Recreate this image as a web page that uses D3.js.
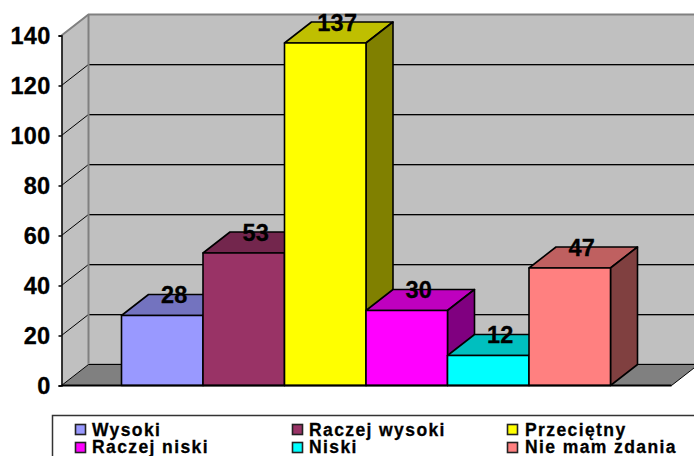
<!DOCTYPE html>
<html><head><meta charset="utf-8">
<script src="https://cdnjs.cloudflare.com/ajax/libs/d3/7.8.5/d3.min.js"></script>
<style>html,body{margin:0;padding:0;background:#fff;overflow:hidden}svg{display:block}text{font-family:"Liberation Sans",Arial,sans-serif;font-weight:bold;fill:#000;stroke:#000;stroke-width:.3px}</style>
</head><body><svg id="c" width="694" height="456"></svg>
<script>
const categories=["Wysoki","Raczej wysoki","Przeciętny","Raczej niski","Niski","Nie mam zdania"];
const values=[28,53,137,30,12,47];
const frontColors=["#9999ff","#993366","#ffff00","#ff00ff","#00ffff","#ff8080"];
const topColors=["#7373bf","#73264d","#bfbf00","#bf00bf","#00bfbf","#bf6060"];
const sideColors=["#4d4d80","#4d1a33","#808000","#800080","#008080","#804040"];
const yTicks=[0,20,40,60,80,100,120,140];
const DX=27,DY=-21;
const svg=d3.select("#c");
const y=d3.scaleLinear().domain([0,140]).range([385.5,35.5]);
const x=d3.scaleBand().domain(categories).range([121.5,610.5]);
const L=61.5,R=671.5;
const pts=a=>a.map(p=>p.join(",")).join(" ");
svg.append("polygon").attr("points",pts([[L,y(0)],[L+DX,y(0)+DY],[L+DX,y(140)+DY],[L,y(140)]])).attr("fill","#c0c0c0");
svg.append("rect").attr("x",L+DX).attr("y",y(140)+DY).attr("width",R-L).attr("height",y(0)-y(140)).attr("fill","#c0c0c0");
const grid=svg.append("g");
yTicks.slice(1,-1).forEach(t=>{
  grid.append("line").attr("x1",L+DX).attr("x2",R+DX).attr("y1",y(t)+DY+1).attr("y2",y(t)+DY+1).attr("stroke","#808080").attr("stroke-width",1);
  grid.append("path").attr("d",`M${L},${y(t)}L${L+DX},${y(t)+DY}L${R+DX},${y(t)+DY}`).attr("fill","none").attr("stroke","#000").attr("stroke-width",1);
});
svg.append("path").attr("d",`M${L},${y(140)}L${L+DX},${y(140)+DY}L${R+DX},${y(140)+DY}`).attr("fill","none").attr("stroke","#808080").attr("stroke-width",2);
svg.append("line").attr("x1",L+DX).attr("x2",L+DX).attr("y1",y(140)+DY).attr("y2",y(0)+DY).attr("stroke","#808080").attr("stroke-width",2);
svg.append("polygon").attr("points",pts([[L,y(0)],[L+DX,y(0)+DY],[R+DX,y(0)+DY],[R,y(0)]])).attr("fill","#808080").attr("stroke","#000").attr("stroke-width",1);
svg.append("line").attr("x1",L+DX).attr("x2",R+DX).attr("y1",y(0)+DY-1).attr("y2",y(0)+DY-1).attr("stroke","#a0a0a0").attr("stroke-width",1);
const bars=svg.append("g").attr("stroke","#000").attr("stroke-width",1.6).attr("stroke-linejoin","round");
categories.forEach((c,i)=>{
  const x0=x(c),x1=x0+x.bandwidth(),yt=y(values[i]),yb=y(0);
  bars.append("polygon").attr("points",pts([[x0,yt],[x0+DX,yt+DY],[x1+DX,yt+DY],[x1,yt]])).attr("fill",topColors[i]);
  bars.append("polygon").attr("points",pts([[x1,yt],[x1+DX,yt+DY],[x1+DX,yb+DY],[x1,yb]])).attr("fill",sideColors[i]);
  bars.append("rect").attr("x",x0).attr("y",yt).attr("width",x.bandwidth()).attr("height",yb-yt).attr("fill",frontColors[i]);
});
svg.append("line").attr("x1",L).attr("x2",R).attr("y1",y(0)).attr("y2",y(0)).attr("stroke","#000").attr("stroke-width",2);
svg.append("g").selectAll("text").data(categories).join("text")
  .attr("x",c=>x(c)+x.bandwidth()/2+DX/2-1.5)
  .attr("y",(c,i)=>y(values[i])-12.5)
  .attr("text-anchor","middle").attr("font-size",23.5).attr("letter-spacing",.3).text((c,i)=>values[i]);
const ax=svg.append("g").attr("transform",`translate(${L},0)`).call(d3.axisLeft(y).tickValues(yTicks).tickSize(3).tickPadding(8));
ax.selectAll("path,line").attr("stroke","#000").attr("stroke-width",1.5);
ax.selectAll("text").attr("font-size",23.5).attr("letter-spacing",.3).attr("dy","0.36em").attr("font-family",'"Liberation Sans",Arial,sans-serif').attr("font-weight","bold").attr("fill","#000");
svg.append("rect").attr("x",52.5).attr("y",415.5).attr("width",660).attr("height",60).attr("fill","#fff").attr("stroke","#333").attr("stroke-width",1.5);
const colX=[75,292,507],rowY=[424,442],textY=[436,453];
const lg=svg.append("g").selectAll("g").data(categories).join("g")
  .attr("transform",(c,i)=>`translate(${colX[i%3]},${rowY[Math.floor(i/3)]})`);
lg.append("rect").attr("x",.5).attr("y",.5).attr("width",10).attr("height",10).attr("fill",(c,i)=>frontColors[i]).attr("stroke","#222").attr("stroke-width",1.6);
lg.append("text").attr("x",(c,i)=>i%3===2?18:17).attr("y",(c,i)=>textY[Math.floor(i/3)]-rowY[Math.floor(i/3)]).attr("font-size",17.5).attr("letter-spacing",1.4).text(c=>c);
</script></body></html>
